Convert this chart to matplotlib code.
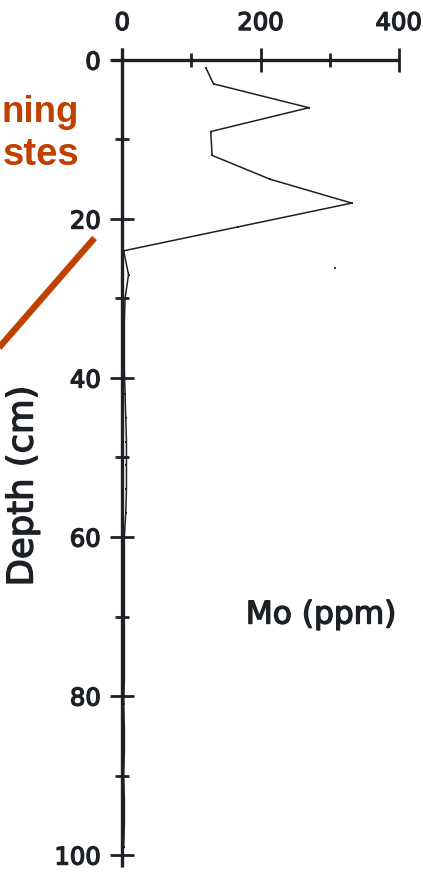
import matplotlib
matplotlib.use("Agg")
import matplotlib.pyplot as plt
from matplotlib.lines import Line2D
import matplotlib.patheffects as pe

# ---- data ----
depth_cm = [1, 3, 6, 9, 12, 15, 18, 21, 24, 27, 30, 33, 36, 39, 42, 45, 48, 51,
            54, 57, 60, 63, 66, 69, 72, 75, 78, 81, 84, 87, 90, 93, 96, 99]
mo_ppm = [121, 132, 270, 128, 130, 214, 332, 167, 2, 9, 4, 3, 3, 3, 4, 5, 6, 6,
          6, 5, 3, 3, 3, 3, 3, 3, 3, 2, 3, 3, 2, 3, 3, 2]

x_major = [0, 200, 400]
x_minor = [100, 300]
y_major = [0, 20, 40, 60, 80, 100]
y_minor = [10, 30, 50, 70, 90]

x_label = "Mo (ppm)"
y_label = "Depth (cm)"
side_text = ["ning", "stes"]   # visible (cropped) part of the annotation

INK = "#1d2125"
ORANGE = "#C04000"

W, H = 423, 880
fig = plt.figure(figsize=(W / 100, H / 100), dpi=100)
fig.patch.set_facecolor("white")

# axes positioned so x=0..400 and depth 0..100 map onto the reference pixels
x0_px, x400_px = 122.3, 398.7
y0_px, y100_px = 60.0, 855.0
ax = fig.add_axes([x0_px / W, 1 - y100_px / H, (x400_px - x0_px) / W, (y100_px - y0_px) / H])
ax.set_facecolor("none")
ax.set_xlim(0, 400)
ax.set_ylim(100, 0)

for s in ["right", "bottom"]:
    ax.spines[s].set_visible(False)
for s in ["left", "top"]:
    ax.spines[s].set_linewidth(2.4)
    ax.spines[s].set_color(INK)
    ax.spines[s].set_capstyle("butt")
ax.spines["left"].set_bounds(-1.5, 101.5)
ax.spines["top"].set_bounds(-16, 400)

ax.xaxis.tick_top()
ax.set_xticks(x_major)
ax.set_xticks(x_minor, minor=True)
ax.set_yticks(y_major)
ax.set_yticks(y_minor, minor=True)
ax.tick_params(axis="both", which="major", direction="inout", length=17, width=2.0,
               color=INK, labelcolor=INK, labelsize=17.5)
ax.tick_params(axis="both", which="minor", direction="inout", length=9.5, width=2.0, color=INK)
ax.tick_params(axis="x", which="major", pad=9.5)
ax.tick_params(axis="y", which="major", pad=7)
ax.tick_params(axis="x", which="both", bottom=False, top=True, labelbottom=False, labeltop=True)
ax.tick_params(axis="y", which="both", right=False)

stroke = [pe.withStroke(linewidth=1.0, foreground=INK)]
for lab in ax.get_xticklabels() + ax.get_yticklabels():
    lab.set_family("DejaVu Sans")
    lab.set_path_effects(stroke)

ax.plot(mo_ppm, depth_cm, color=INK, linewidth=1.1, marker="s", markersize=2.0,
        markerfacecolor=INK, markeredgewidth=0, clip_on=False, zorder=3)

fig.text(321 / W, 1 - 615 / H, x_label, ha="center", va="center", fontsize=22.5,
         family="DejaVu Sans", color=INK, path_effects=stroke)
fig.text(22.5 / W, 1 - 486 / H, y_label, ha="center", va="center", rotation=90,
         fontsize=25.5, family="DejaVu Sans", color=INK, path_effects=stroke)

# orange annotation (cropped at the left border in the reference)
fig.text(78.5 / W, 1 - 122 / H, side_text[0], ha="right", va="baseline", fontsize=26.5,
         family="Liberation Sans", fontweight="bold", color=ORANGE)
fig.text(79 / W, 1 - 165 / H, side_text[1], ha="right", va="baseline", fontsize=27.5,
         family="Liberation Sans", fontweight="bold", color=ORANGE)
fig.add_artist(Line2D([94.5 / W, -10 / W], [1 - 238 / H, 1 - 358 / H],
                      transform=fig.transFigure, color=ORANGE, linewidth=4.6,
                      solid_capstyle="butt"))
fig.add_artist(Line2D([335 / W], [1 - 268 / H], transform=fig.transFigure,
                      marker="s", markersize=1.8, color="#8a2a3a", markeredgewidth=0,
                      linestyle="none"))

fig.savefig("out.png", dpi=100, facecolor="white")
